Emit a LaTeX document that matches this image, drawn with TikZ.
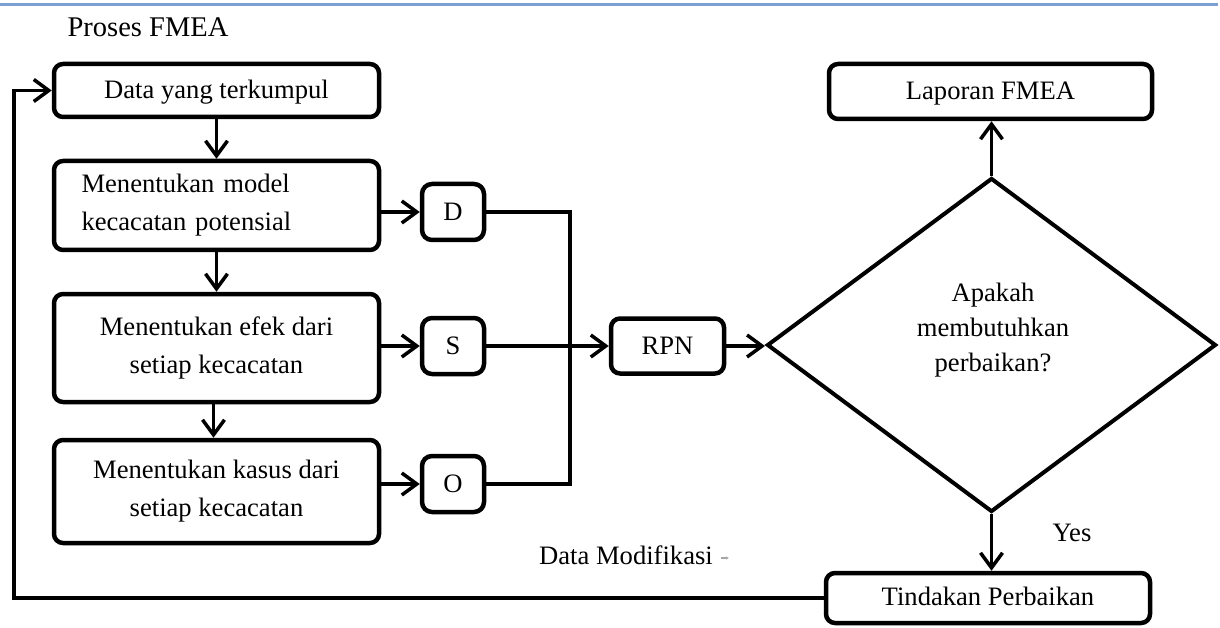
\documentclass[tikz,border=0pt]{standalone}
\usepackage{fontspec}
\setmainfont{Liberation Serif}
\usetikzlibrary{arrows.meta,shapes.geometric}

\begin{document}
\begin{tikzpicture}[x=1pt,y=-1pt,
  box/.style={draw, line width=4.5pt, rounded corners=9pt, inner sep=0pt,
    align=center, font=\fontsize{26.6}{38}\selectfont},
  small/.style={box, rounded corners=10pt, minimum width=62pt, minimum height=56pt},
  conn/.style={line width=3.5pt},
  arr/.style={conn, -{Straight Barb[length=15pt,width=22pt]}},
  lbl/.style={inner sep=0pt, font=\fontsize{26.6}{32}\selectfont}]
\useasboundingbox (0,0) rectangle (1220,628);

% header rule
\draw[line width=3pt, color={rgb,255:red,125;green,160;blue,210}] (0,5) -- (1218,5);

\node[lbl, font=\fontsize{28.5}{34}\selectfont] (title) at (148,27) {Proses FMEA};

% left column of process steps
\node[box, minimum width=325pt, minimum height=53pt] (data) at (216.5,90.5) {\strut Data yang terkumpul};
\node[box, minimum width=325pt, minimum height=89pt, text width=270pt, align=left] (model) at (216.5,205.5)
  {Menentukan model\\kecacatan potensial};
\node[box, minimum width=325pt, minimum height=108pt] (efek) at (216.5,348) {Menentukan efek dari\\setiap kecacatan};
\node[box, minimum width=325pt, minimum height=103pt] (kasus) at (216.5,491.5) {Menentukan kasus dari\\setiap kecacatan};

% ratings
\node[small] (D) at (453,212) {D};
\node[small] (S) at (453,346) {S};
\node[small] (O) at (453,484) {O};

\node[box, minimum width=113pt, minimum height=55pt] (rpn) at (667.5,346) {RPN};

% decision
\node[draw, diamond, line width=4pt, minimum width=449pt, minimum height=334pt, inner sep=0pt] (dec) at (991.5,345) {};
\node[lbl, align=center, font=\fontsize{26.6}{35}\selectfont] (q) at (993,330) {Apakah\\membutuhkan\\perbaikan?};

\node[box, minimum width=323pt, minimum height=55pt] (lap) at (990.5,91.5) {\strut Laporan FMEA};
\node[box, minimum width=324pt, minimum height=50pt] (tin) at (988,598) {\strut Tindakan Perbaikan};

% labels
\node[lbl] (yes) at (1072,533) {Yes};
\node[lbl] (mod) at (626,555) {Data Modifikasi};
\draw[gray!70, line width=1.2pt, -{Latex[length=3pt,width=3.5pt]}] (mod.east) ++(8,3) -- ++(8,0);

% connectors
\draw[arr] (data) -- (model);
\draw[arr] (model) -- (efek);
\draw[arr] ([xshift=-3pt]efek.south) -- ([xshift=-3pt]kasus.north);
\draw[arr] (model.east |- D.west) -- (D.west);
\draw[arr] (efek.east |- S.west) -- (S.west);
\draw[arr] (kasus.east |- O.west) -- (O.west);

\coordinate (j) at (570,346);
\draw[conn] (D.east) -| (j) |- (O.east);
\draw[arr] (S.east) -- (S.east -| rpn.west);
\draw[arr] (rpn.east) -- (rpn.east -| dec.west);
\draw[arr] (dec.north) -- (dec.north |- lap.south);
\draw[arr] (dec.south) -- (dec.south |- tin.north);

\coordinate (lp) at (14,598);
\draw[arr] (tin.west) -- (lp) |- (data.west);
\end{tikzpicture}
\end{document}
